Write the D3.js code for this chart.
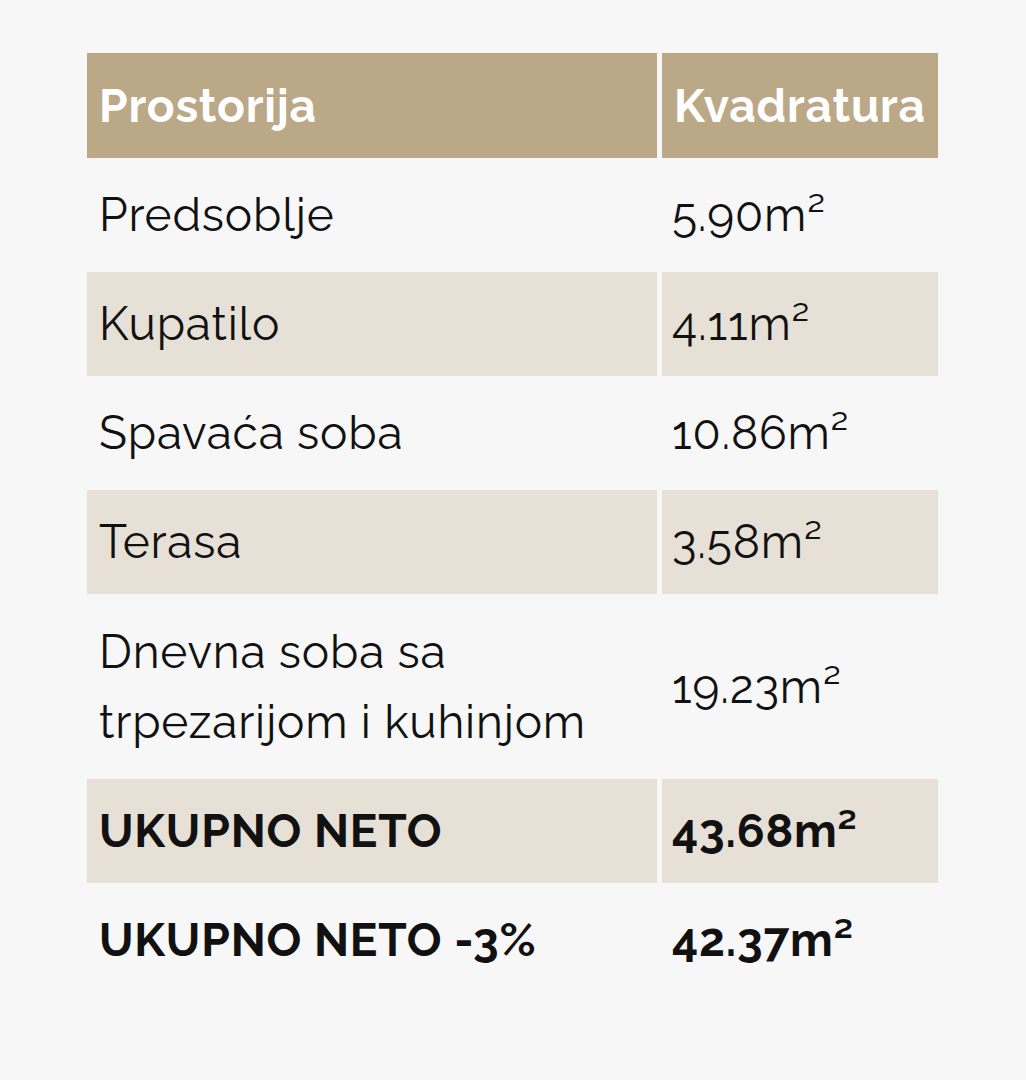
<!DOCTYPE html>
<html><head><meta charset="utf-8">
<script src="https://cdn.jsdelivr.net/npm/d3@7"></script>
<style>body{margin:0;background:#f7f7f7}svg{display:block}</style>
</head><body>
<div id="chart"></div>
<script>
const headers = ["Prostorija", "Kvadratura"];
const rooms = [["Predsoblje"], ["Kupatilo"], ["Spavaća soba"], ["Terasa"],
  ["Dnevna soba sa", "trpezarijom i kuhinjom"], ["UKUPNO NETO"], ["UKUPNO NETO -3%"]];
const areas = ["5.90", "4.11", "10.86", "3.58", "19.23", "43.68", "42.37"];
const bold = [false, false, false, false, false, true, true];

const width = 1026, height = 1080;
const svg = d3.select("#chart").append("svg").attr("width", width).attr("height", height);
svg.append("rect").attr("width", width).attr("height", height).attr("fill", "#f7f7f7");

const left = 87, split = 659, right = 938, headTop = 53, headH = 105, rowH = 109, lineH = 70;
const font = "Raleway, Lato, 'Open Sans', sans-serif";

const x = d3.scaleOrdinal().domain(headers).range([[left, split - 2], [split + 3, right]]);
headers.forEach(h => {
  const [a, b] = x(h);
  svg.append("rect").attr("x", a).attr("y", headTop).attr("width", b - a).attr("height", headH).attr("fill", "#bba887");
  svg.append("text").attr("x", a + 12).attr("y", headTop + 69).attr("fill", "#fff")
    .attr("font-family", font).attr("font-weight", 700).attr("font-size", 46)
    .attr("letter-spacing", 0.8).text(h);
});

let y = 163;
rooms.forEach((r, i) => {
  const h = r.length > 1 ? 180 : rowH;
  if (i % 2 === 1) {
    headers.forEach(c => {
      const [a, b] = x(c);
      svg.append("rect").attr("x", a).attr("y", y).attr("width", b - a).attr("height", h - 5).attr("fill", "#e6e0d6");
    });
  }
  const mid = y + (h - 5) / 2;
  const t = svg.append("text").attr("font-family", font).attr("font-size", 46)
    .attr("letter-spacing", 0.8)
    .attr("font-weight", bold[i] ? 700 : 400).attr("fill", "#111");
  r.forEach((line, k) => {
    t.append("tspan").attr("x", left + 12)
      .attr("y", mid + 16 + (k - (r.length - 1) / 2) * lineH).text(line);
  });
  svg.append("text").attr("x", split + 13).attr("y", mid + 16).attr("font-family", font)
    .attr("font-size", 46).attr("letter-spacing", 0.8)
    .attr("font-weight", bold[i] ? 700 : 400).attr("fill", "#111")
    .text(areas[i] + "m²");
  y += h;
});
</script>
</body></html>
